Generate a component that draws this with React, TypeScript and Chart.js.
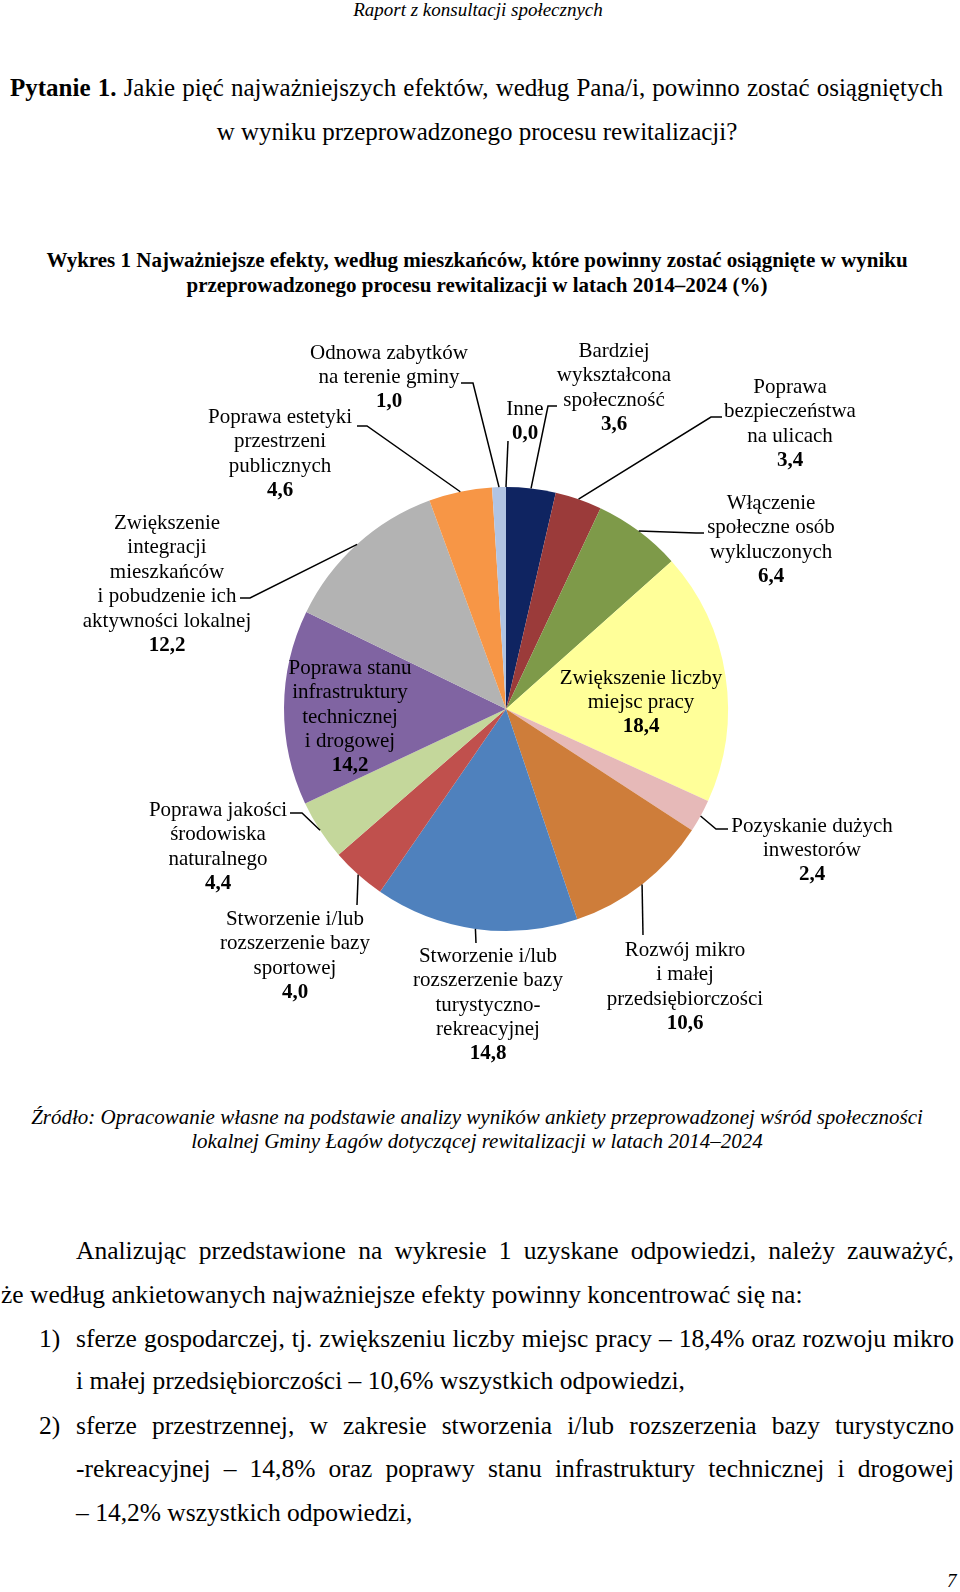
import React, { useEffect, useRef } from "react";
import { Chart, registerables } from "chart.js";
Chart.register(...registerables);

const FONT = '"Liberation Serif", "Times New Roman", serif';

// ---- data ----
const categories: string[][] = [
  ["Inne"],
  ["Bardziej", "wykształcona", "społeczność"],
  ["Poprawa", "bezpieczeństwa", "na ulicach"],
  ["Włączenie", "społeczne osób", "wykluczonych"],
  ["Zwiększenie liczby", "miejsc pracy"],
  ["Pozyskanie dużych", "inwestorów"],
  ["Rozwój mikro", "i małej", "przedsiębiorczości"],
  ["Stworzenie i/lub", "rozszerzenie bazy", "turystyczno-", "rekreacyjnej"],
  ["Stworzenie i/lub", "rozszerzenie bazy", "sportowej"],
  ["Poprawa jakości", "środowiska", "naturalnego"],
  ["Poprawa stanu", "infrastruktury", "technicznej", "i drogowej"],
  ["Zwiększenie", "integracji", "mieszkańców", "i pobudzenie ich", "aktywności lokalnej"],
  ["Poprawa estetyki", "przestrzeni", "publicznych"],
  ["Odnowa zabytków", "na terenie gminy"],
];
const values: number[] = [0.0, 3.6, 3.4, 6.4, 18.4, 2.4, 10.6, 14.8, 4.0, 4.4, 14.2, 12.2, 4.6, 1.0];
const colors: string[] = [
  "#B4C6E4",
  "#0F2461",
  "#9B3B3A",
  "#7E9A49",
  "#FFFF99",
  "#E6B9B8",
  "#CE7D3A",
  "#4F81BD",
  "#C0504D",
  "#C4D79B",
  "#8064A2",
  "#B3B3B3",
  "#F79646",
  "#B1C4E3",
];

// ---- label layout (page coordinates) ----
type LabelPos = { x: number; y: number; start?: [number, number]; elbow?: [number, number] };
const labelLayout: LabelPos[] = [
  { x: 525, y: 409, start: [508, 441] },
  { x: 614, y: 351, start: [557, 406], elbow: [548, 406] },
  { x: 790, y: 387, start: [722, 417], elbow: [711, 417] },
  { x: 771, y: 503, start: [704, 533], elbow: [696, 533] },
  { x: 641, y: 678 },
  { x: 812, y: 826, start: [728, 829], elbow: [716, 829] },
  { x: 685, y: 950, start: [643, 935] },
  { x: 488, y: 956, start: [476, 943] },
  { x: 295, y: 919, start: [357, 905] },
  { x: 218, y: 810, start: [290, 813], elbow: [302, 813] },
  { x: 350, y: 668 },
  { x: 167, y: 523, start: [240, 598], elbow: [250, 598] },
  { x: 280, y: 417, start: [357, 426], elbow: [367, 426] },
  { x: 389, y: 353, start: [461, 383], elbow: [473, 383] },
];

const CANVAS_TOP = 330;
const CANVAS_H = 740;
const LINE_H = 24.5;
const LABEL_SIZE = 21;

const fmt = (v: number) => v.toFixed(1).replace(".", ",");

const labelPlugin = {
  id: "pieLabels",
  afterDatasetsDraw(chart: any) {
    const ctx = chart.ctx as CanvasRenderingContext2D;
    const meta = chart.getDatasetMeta(0);
    ctx.save();
    meta.data.forEach((arc: any, i: number) => {
      const p = arc.getProps(["x", "y", "startAngle", "endAngle", "outerRadius"], true);
      const mid = (p.startAngle + p.endAngle) / 2;
      const ax = p.x + Math.cos(mid) * p.outerRadius;
      const ay = p.y + Math.sin(mid) * p.outerRadius;
      const L = labelLayout[i];
      if (L.start) {
        ctx.beginPath();
        ctx.strokeStyle = "#000";
        ctx.lineWidth = 1.5;
        ctx.moveTo(L.start[0], L.start[1] - CANVAS_TOP);
        if (L.elbow) ctx.lineTo(L.elbow[0], L.elbow[1] - CANVAS_TOP);
        ctx.lineTo(ax, ay);
        ctx.stroke();
      }
      ctx.fillStyle = "#000";
      ctx.textAlign = "center";
      ctx.textBaseline = "middle";
      const lines = categories[i];
      lines.forEach((t, k) => {
        ctx.font = `${LABEL_SIZE}px ${FONT}`;
        ctx.fillText(t, L.x, L.y - CANVAS_TOP + k * LINE_H);
      });
      ctx.font = `bold ${LABEL_SIZE}px ${FONT}`;
      ctx.fillText(fmt(values[i]), L.x, L.y - CANVAS_TOP + lines.length * LINE_H);
    });
    ctx.restore();
  },
};

function PieChart() {
  const ref = useRef<HTMLCanvasElement | null>(null);
  useEffect(() => {
    if (!ref.current) return;
    const chart = new Chart(ref.current, {
      type: "pie",
      data: {
        labels: categories.map((c) => c.join(" ")),
        datasets: [
          {
            data: values,
            backgroundColor: colors,
            borderWidth: 0,
          },
        ],
      },
      options: {
        responsive: false,
        animation: false,
        maintainAspectRatio: false,
        layout: { padding: { left: 284, right: 232, top: 157, bottom: 139 } },
        plugins: { legend: { display: false }, tooltip: { enabled: false } },
      },
      plugins: [labelPlugin],
    } as any);
    return () => chart.destroy();
  }, []);
  return (
    <canvas
      ref={ref}
      width={960}
      height={CANVAS_H}
      style={{ position: "absolute", left: 0, top: CANVAS_TOP, width: 960, height: CANVAS_H }}
    />
  );
}

const line = (
  y: number,
  content: React.ReactNode,
  style: React.CSSProperties,
  lh = 30
) => (
  <div
    style={{
      position: "absolute",
      top: y - lh / 2,
      lineHeight: `${lh}px`,
      height: lh,
      whiteSpace: "nowrap",
      ...style,
    }}
  >
    {content}
  </div>
);

const BODY = 25.5;
const justify: React.CSSProperties = { left: 76, width: 878, textAlign: "justify", textAlignLast: "justify" as any };
const centered: React.CSSProperties = { left: 0, width: 954, textAlign: "center" };

export default function App() {
  return (
    <div
      style={{
        position: "absolute",
        left: 0,
        top: 0,
        width: 960,
        height: 1592,
        background: "#fff",
        color: "#000",
        fontFamily: FONT,
        overflow: "hidden",
      }}
    >
      {line(10, "Raport z konsultacji społecznych", { ...centered, width: 956, fontStyle: "italic", fontSize: 19 }, 22)}
      {line(
        88,
        <>
          <b>Pytanie 1.</b> Jakie pięć najważniejszych efektów, według Pana/i, powinno zostać osiągniętych
        </>,
        { left: 10, width: 933, fontSize: 25, textAlign: "justify", textAlignLast: "justify" as any }
      )}
      {line(132, "w wyniku przeprowadzonego procesu rewitalizacji?", { ...centered, fontSize: 25 })}

      {line(260, "Wykres 1 Najważniejsze efekty, według mieszkańców, które powinny zostać osiągnięte w wyniku", { ...centered, fontWeight: "bold", fontSize: 21 }, 26)}
      {line(285, "przeprowadzonego procesu rewitalizacji w latach 2014–2024 (%)", { ...centered, fontWeight: "bold", fontSize: 21 }, 26)}

      <PieChart />

      {line(1117, "Źródło: Opracowanie własne na podstawie analizy wyników ankiety przeprowadzonej wśród społeczności", { ...centered, fontStyle: "italic", fontSize: 21 }, 24)}
      {line(1141, "lokalnej Gminy Łagów dotyczącej rewitalizacji w latach 2014–2024", { ...centered, fontStyle: "italic", fontSize: 21 }, 24)}

      {line(1251, "Analizując przedstawione na wykresie 1 uzyskane odpowiedzi, należy zauważyć,", { ...justify, fontSize: BODY })}
      {line(1295, "że według ankietowanych najważniejsze efekty powinny koncentrować się na:", { left: 1, fontSize: BODY })}
      {line(1339, "1)", { left: 39, fontSize: BODY })}
      {line(1339, "sferze gospodarczej, tj. zwiększeniu liczby miejsc pracy – 18,4% oraz rozwoju mikro", { ...justify, fontSize: BODY })}
      {line(1381, "i małej przedsiębiorczości – 10,6% wszystkich odpowiedzi,", { left: 76, fontSize: BODY })}
      {line(1426, "2)", { left: 39, fontSize: BODY })}
      {line(1426, "sferze przestrzennej, w zakresie stworzenia i/lub rozszerzenia bazy turystyczno", { ...justify, fontSize: BODY })}
      {line(1469, "-rekreacyjnej – 14,8% oraz poprawy stanu infrastruktury technicznej i drogowej", { ...justify, fontSize: BODY })}
      {line(1513, "– 14,2% wszystkich odpowiedzi,", { left: 76, fontSize: BODY })}

      {line(1581, "7", { left: 947, fontSize: 19, fontStyle: "italic" }, 22)}
    </div>
  );
}
